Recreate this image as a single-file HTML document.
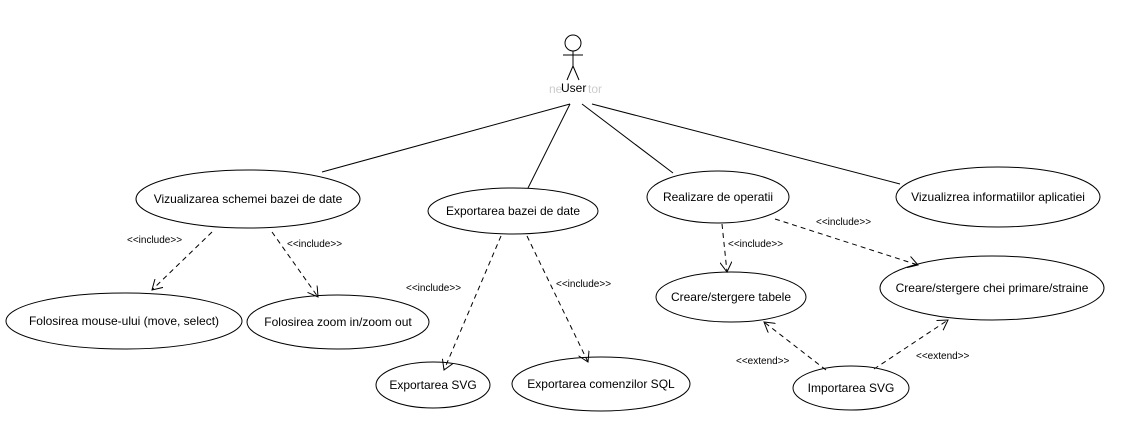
<!DOCTYPE html>
<html><head><meta charset="utf-8"><style>
html,body{margin:0;padding:0;background:#fff;}
svg text{font-family:"Liberation Sans",sans-serif;font-size:12px;fill:#000;}
.l{font-size:10px;}
</style></head><body>
<svg width="1146" height="440" xmlns="http://www.w3.org/2000/svg">
<defs>
<marker id="a" markerWidth="12" markerHeight="12" refX="10" refY="6" orient="auto" markerUnits="userSpaceOnUse">
<path d="M0,0 L10,6 L0,12" fill="none" stroke="#000" stroke-width="1"/></marker>
</defs>
<g stroke="#000" stroke-width="1" fill="none">
<circle cx="573" cy="43" r="8"/>
<line x1="573" y1="51" x2="573" y2="66"/>
<line x1="563" y1="55" x2="583" y2="55"/>
<line x1="573" y1="66" x2="567" y2="80"/>
<line x1="573" y1="66" x2="579" y2="80"/>
<line x1="570" y1="104" x2="322" y2="172"/>
<line x1="570" y1="104" x2="528" y2="188"/>
<line x1="582" y1="104" x2="673" y2="173"/>
<line x1="592" y1="104" x2="900" y2="184"/>
</g>
<text x="549" y="93" fill="#ccc" style="fill:#ccc">ne</text>
<text x="561" y="92">User</text>
<text x="588" y="93" style="fill:#ccc">tor</text>
<g stroke="#000" stroke-width="1" fill="#fff">
<ellipse cx="248" cy="199" rx="112" ry="29"/>
<ellipse cx="513" cy="211" rx="85" ry="23"/>
<ellipse cx="718" cy="197" rx="71" ry="26"/>
<ellipse cx="998" cy="197" rx="102" ry="30"/>
<ellipse cx="124" cy="321" rx="118" ry="28"/>
<ellipse cx="338" cy="322" rx="91" ry="27"/>
<ellipse cx="731" cy="297" rx="75" ry="25"/>
<ellipse cx="992" cy="288" rx="112" ry="32"/>
<ellipse cx="433" cy="385" rx="57" ry="23"/>
<ellipse cx="601" cy="384" rx="89" ry="27"/>
<ellipse cx="851" cy="388" rx="58" ry="22"/>
</g>
<g stroke="#000" stroke-width="1" fill="none" stroke-dasharray="5,4" marker-end="url(#a)">
<line x1="212" y1="232" x2="152" y2="290"/>
<line x1="272" y1="232" x2="318" y2="297"/>
<line x1="501" y1="236" x2="444" y2="370"/>
<line x1="527" y1="236" x2="588" y2="362"/>
<line x1="722" y1="224" x2="727" y2="272"/>
<line x1="775" y1="219" x2="918" y2="265"/>
<line x1="826" y1="370" x2="764" y2="322"/>
<line x1="874" y1="369" x2="948" y2="320"/>
</g>
<g text-anchor="middle">
<text x="248" y="203">Vizualizarea schemei bazei de date</text>
<text x="513" y="215">Exportarea bazei de date</text>
<text x="718" y="201">Realizare de operatii</text>
<text x="998" y="201">Vizualizrea informatiilor aplicatiei</text>
<text x="124" y="325">Folosirea mouse-ului (move, select)</text>
<text x="338" y="326">Folosirea zoom in/zoom out</text>
<text x="731" y="301">Creare/stergere tabele</text>
<text x="992" y="292">Creare/stergere chei primare/straine</text>
<text x="433" y="389">Exportarea SVG</text>
<text x="601" y="388">Exportarea comenzilor SQL</text>
<text x="851" y="392">Importarea SVG</text>
</g>
<text class="l" x="127" y="243">&lt;&lt;include&gt;&gt;</text>
<text class="l" x="287" y="247">&lt;&lt;include&gt;&gt;</text>
<text class="l" x="406" y="291">&lt;&lt;include&gt;&gt;</text>
<text class="l" x="556" y="287">&lt;&lt;include&gt;&gt;</text>
<text class="l" x="728" y="247">&lt;&lt;include&gt;&gt;</text>
<text class="l" x="816" y="225">&lt;&lt;include&gt;&gt;</text>
<text class="l" x="736" y="364">&lt;&lt;extend&gt;&gt;</text>
<text class="l" x="916" y="359">&lt;&lt;extend&gt;&gt;</text>
</svg>
</body></html>
